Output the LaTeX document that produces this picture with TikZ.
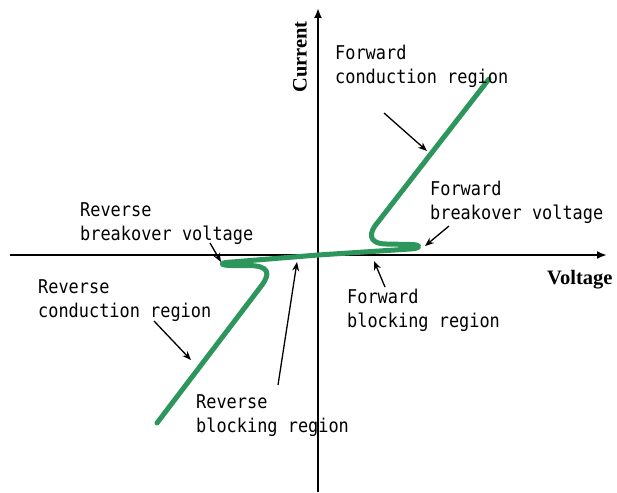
\documentclass[tikz,border=0pt]{standalone}
\usepackage{fontspec}
\usetikzlibrary{arrows.meta}
\newfontfamily\labfont[FakeStretch=0.89]{DejaVu Sans Mono}
\newfontfamily\axfont{Liberation Serif}
\definecolor{curvegreen}{RGB}{44,150,92}
\begin{document}
\begin{tikzpicture}[x=1pt,y=-1pt,
  axisline/.style={line width=2pt,-{Latex[length=10pt,width=8pt]}},
  lbl/.style={font=\labfont\fontsize{19}{24}\selectfont,align=left,inner sep=0pt,anchor=base west},
  axlbl/.style={font=\axfont\bfseries\fontsize{20.5}{22}\selectfont,inner sep=0pt},
  pointer/.style={line width=1.3pt,-{Stealth[length=9pt,width=7pt]}},
  ivcurve/.style={line width=5pt,draw=curvegreen,line cap=round,line join=round}]
\useasboundingbox (0,0) rectangle (617,492);
\fill[white] (0,0) rectangle (617,492);
% axes
\coordinate (xl) at (10,255);
\coordinate (xr) at (607,255);
\coordinate (yb) at (318,492);
\coordinate (yt) at (318,8);
\draw[axisline] (xl) -- (xr);
\draw[axisline] (yb) -- (yt);
\node[axlbl,anchor=base west] (volt) at (547,284) {Voltage};
\node[axlbl,rotate=90] (curr) at (300,57) {Current};
% characteristic curve
\draw[ivcurve] (318,255) -- (410,249) .. controls (421,248.5) and (422,244.5) .. (410,244.5)
  -- (386,244) .. controls (367,243.5) and (369,232) .. (378,222) -- (489,79);
\draw[ivcurve] (318,255) -- (232,262) .. controls (219,262.5) and (219,265.5) .. (232,265.5)
  -- (248,265.5) .. controls (270,265.5) and (270,274) .. (262,285) -- (157,423);
% labels
\node[lbl] (fc) at (335,84) {Forward\\conduction region};
\node[lbl] (fbv) at (430,219) {Forward\\breakover voltage};
\node[lbl] (fbr) at (347,327) {Forward\\blocking region};
\node[lbl] (rbr) at (196,432) {Reverse\\blocking region};
\node[lbl] (rc) at (38,317) {Reverse\\conduction region};
\node[lbl] (rbv) at (80,240) {Reverse\\breakover voltage};
% pointers
\coordinate (fcs) at (384,113); \coordinate (fct) at (427,151);
\coordinate (fbvs) at (449,226); \coordinate (fbvt) at (425,246);
\coordinate (fbrs) at (385,287); \coordinate (fbrt) at (374,261);
\coordinate (rbrs) at (278,385); \coordinate (rbrt) at (297,262);
\coordinate (rcs) at (154,321); \coordinate (rct) at (191,360);
\coordinate (rbvs) at (210,243); \coordinate (rbvt) at (221,262);
\draw[pointer] (fcs) -- (fct);
\draw[pointer] (fbvs) -- (fbvt);
\draw[pointer] (fbrs) -- (fbrt);
\draw[pointer] (rbrs) -- (rbrt);
\draw[pointer] (rcs) -- (rct);
\draw[pointer] (rbvs) -- (rbvt);
\end{tikzpicture}
\end{document}
